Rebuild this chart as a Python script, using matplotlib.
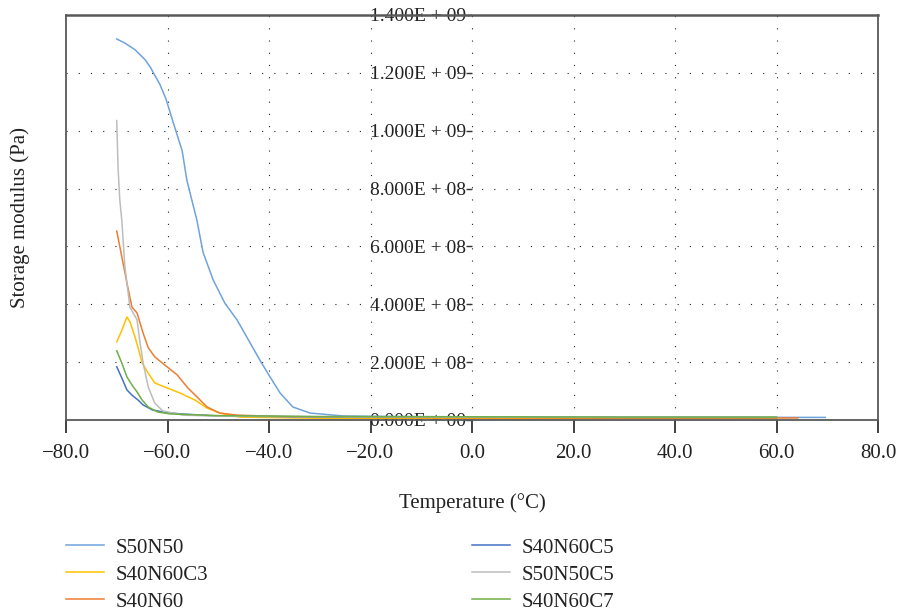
import numpy as np
import matplotlib
matplotlib.use("Agg")
import matplotlib.pyplot as plt
from matplotlib.ticker import FuncFormatter

plt.rcParams['font.family'] = ['Liberation Serif', 'DejaVu Serif']

# Data (temperature in deg C, storage modulus in Pa)
t_s50n50 = [-70, -68.4, -66.4, -64.4, -63.4, -61.5, -60.3, -58.9, -57.1, -56.2, -54.2,
            -53, -51, -48.7, -46.3, -43.7, -41.8, -39.8, -37.8, -35.3, -31.9, -25.4,
            -15, 0, 20, 40, 60, 69.6]
e_s50n50 = [1.317e9, 1.303e9, 1.28e9, 1.245e9, 1.22e9, 1.16e9, 1.11e9, 1.03e9, 0.93e9,
            0.83e9, 0.69e9, 0.58e9, 0.484e9, 0.404e9, 0.346e9, 0.266e9, 0.207e9,
            0.149e9, 0.093e9, 0.045e9, 0.024e9, 0.014e9, 0.012e9, 0.011e9, 0.010e9,
            0.010e9, 0.009e9, 0.009e9]

t_s40n60c3 = [-70, -69, -68, -67.4, -66.4, -65.8, -65, -63.8, -62.5, -60.1, -57.5,
              -54.6, -52.2, -49.7, -45.7, -30, 0, 30, 60]
e_s40n60c3 = [0.27e9, 0.31e9, 0.356e9, 0.34e9, 0.287e9, 0.25e9, 0.197e9, 0.162e9,
              0.128e9, 0.111e9, 0.093e9, 0.069e9, 0.041e9, 0.024e9, 0.010e9, 0.006e9,
              0.005e9, 0.004e9, 0.004e9]

t_s40n60 = [-70, -69, -68, -67, -66, -64.8, -63.8, -62.5, -60.1, -58.1, -56, -54.2,
            -52.2, -49.7, -46.3, -35, -10, 20, 50, 64.2]
e_s40n60 = [0.653e9, 0.564e9, 0.474e9, 0.39e9, 0.37e9, 0.30e9, 0.25e9, 0.218e9,
            0.184e9, 0.156e9, 0.111e9, 0.08e9, 0.045e9, 0.024e9, 0.017e9, 0.010e9,
            0.008e9, 0.007e9, 0.007e9, 0.007e9]

t_s40n60c5 = [-70, -69, -68, -67, -65.8, -64.8, -63, -61, -57.5, -50, -30, 0, 30, 60]
e_s40n60c5 = [0.184e9, 0.145e9, 0.104e9, 0.086e9, 0.069e9, 0.052e9, 0.035e9, 0.028e9,
              0.021e9, 0.014e9, 0.011e9, 0.010e9, 0.009e9, 0.009e9]

t_s50n50c5 = [-70, -69.75, -69.4, -69, -68.4, -67.4, -66, -65.4, -64.8, -63.8, -62.5,
              -60.9, -57, -50, -30, 0, 30, 60]
e_s50n50c5 = [1.035e9, 0.875e9, 0.76e9, 0.69e9, 0.53e9, 0.39e9, 0.346e9, 0.266e9,
              0.197e9, 0.114e9, 0.058e9, 0.031e9, 0.017e9, 0.013e9, 0.011e9, 0.010e9,
              0.010e9, 0.010e9]

t_s40n60c7 = [-70, -69, -68, -67, -66, -65, -63.8, -62, -59.5, -50, -30, 0, 30, 60]
e_s40n60c7 = [0.239e9, 0.197e9, 0.149e9, 0.121e9, 0.097e9, 0.069e9, 0.045e9, 0.028e9,
              0.021e9, 0.015e9, 0.012e9, 0.011e9, 0.010e9, 0.010e9]

x_ticks = [-80, -60, -40, -20, 0, 20, 40, 60, 80]
y_ticks = [0, 2e8, 4e8, 6e8, 8e8, 1e9, 1.2e9, 1.4e9]

fig = plt.figure(figsize=(8.97, 6.14), dpi=100)
ax = fig.add_axes([66 / 897, 1 - 420 / 614, (878 - 66) / 897, (420 - 15) / 614])

dots = (0, (1, 10))
for xv in x_ticks[1:-1]:
    ax.axvline(xv, color='#222222', lw=0.8, ls=dots, zorder=0)
for yv in y_ticks[1:-1]:
    ax.axhline(yv, color='#222222', lw=0.8, ls=dots, zorder=0)

# legend order: first column then second column
ax.plot(t_s50n50, e_s50n50, color='#6FA3DC', lw=1.1, label='S50N50')
ax.plot(t_s40n60c3, e_s40n60c3, color='#FFC000', lw=1.1, label='S40N60C3')
ax.plot(t_s40n60, e_s40n60, color='#ED7D31', lw=1.1, label='S40N60')
ax.plot(t_s40n60c5, e_s40n60c5, color='#4472C4', lw=1.1, label='S40N60C5')
ax.plot(t_s50n50c5, e_s50n50c5, color='#BDBDBD', lw=1.1, label='S50N50C5')
ax.plot(t_s40n60c7, e_s40n60c7, color='#70AD47', lw=1.1, label='S40N60C7')

ax.set_xlim(-80, 80)
ax.set_ylim(0, 1.4e9)

spine_c = '#595959'
for s in ['top', 'right', 'bottom']:
    ax.spines[s].set_color(spine_c)
    ax.spines[s].set_linewidth(1.3)
ax.spines['top'].set_linewidth(1.8)
# y axis sits at x = 0; the frame's left edge is drawn separately
ax.spines['left'].set_position(('data', 0))
ax.spines['left'].set_visible(False)
ax.axvline(-80, color=spine_c, lw=1.3, clip_on=False)

ax.set_xticks(x_ticks)
ax.xaxis.set_major_formatter(FuncFormatter(lambda v, p: f"{v:.1f}".replace('-', '\u2212')))
ax.set_yticks(y_ticks)


def sci(v, p):
    if v == 0:
        return "0.000E + 00"
    exp = int(np.floor(np.log10(abs(v))))
    return f"{v / 10 ** exp:.3f}E + {exp:02d}"


ax.yaxis.set_major_formatter(FuncFormatter(sci))
ax.tick_params(axis='x', direction='out', length=9, width=1.3, color='#333333',
               labelsize=15, pad=8, colors='#222222')
ax.tick_params(axis='y', direction='out', length=4, width=1.0, color='#333333',
               labelsize=14, pad=0, colors='#222222')
for lab in ax.get_yticklabels():
    lab.set_zorder(5)

ax.set_xlabel('Temperature (\u00b0C)', fontsize=15, color='#222222', labelpad=22)
fig.text(20 / 897, 1 - 218 / 614, 'Storage modulus (Pa)', rotation=90, fontsize=15,
         color='#222222', ha='center', va='center')

handles, labels = ax.get_legend_handles_labels()
for hs, ls, xpx in [(handles[:3], labels[:3], 66), (handles[3:], labels[3:], 472)]:
    fig.legend(hs, ls, loc='upper left', bbox_to_anchor=(xpx / 897, 1 - 538 / 614),
               frameon=False, fontsize=15, borderpad=0, borderaxespad=0,
               handlelength=1.8, handletextpad=0.6, labelspacing=0.36,
               labelcolor='#222222')

fig.savefig('out.png', dpi=100)
